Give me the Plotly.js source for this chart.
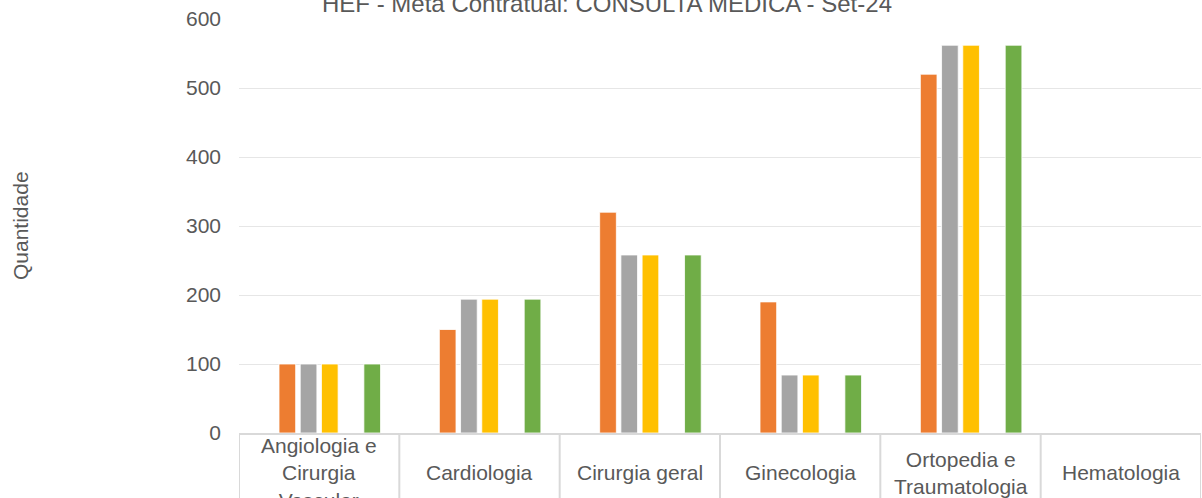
<!DOCTYPE html>
<html>
<head>
<meta charset="utf-8">
<script src="https://cdn.plot.ly/plotly-3.0.1.min.js"></script>
<style>html,body{margin:0;padding:0;background:#fff;}#chart{width:1202px;height:498px;}</style>
</head>
<body>
<div id="chart"></div>
<script>
const categories = ["Angiologia e<br>Cirurgia<br>Vascular", "Cardiologia", "Cirurgia geral", "Ginecologia", "Ortopedia e<br>Traumatologia", "Hematologia"];
const seriesNames = ["Série 1", "Série 2", "Série 3", "Série 4", "Série 5", "Série 6"];
const seriesColors = ["#4472C4", "#ED7D31", "#A5A5A5", "#FFC000", "#5B9BD5", "#70AD47"];
const serie1 = [0, 0, 0, 0, 0, 0];
const serie2 = [100, 150, 320, 190, 520, 0];
const serie3 = [100, 194, 258, 84, 562, 0];
const serie4 = [100, 194, 258, 84, 562, 0];
const serie5 = [0, 0, 0, 0, 0, 0];
const serie6 = [100, 194, 258, 84, 562, 0];
const yTicks = [0, 100, 200, 300, 400, 500, 600];
const chartTitle = "HEF - Meta Contratual: CONSULTA MÉDICA - Set-24";
const yTitle = "Quantidade";

const allSeries = [serie1, serie2, serie3, serie4, serie5, serie6];
const xIdx = categories.map((c, i) => i);
const textColor = "#595959";
const font = "Liberation Sans, Arial, sans-serif";

const traces = allSeries.map((vals, k) => ({
  type: "bar",
  name: seriesNames[k],
  x: xIdx,
  y: vals,
  marker: {color: seriesColors[k], line: {color: "#FFFFFF", width: 0.8}},
  hoverinfo: "y"
}));

const shapes = [];
for (let i = 0; i <= categories.length; i++) {
  shapes.push({type: "line", xref: "x", yref: "paper", x0: i - 0.5, x1: i - 0.5, y0: 0, y1: -0.25,
    line: {color: "#D9D9D9", width: 2}});
}

const annotations = categories.map((c, i) => ({
  xref: "x", yref: "paper", x: i, y: -0.0966, text: c, showarrow: false,
  xanchor: "center", yanchor: "middle", align: "center",
  font: {family: font, size: 21, color: textColor}
}));
annotations.push({
  xref: "paper", yref: "paper", x: -(239 - 20) / 962, y: 0.5, text: yTitle, showarrow: false,
  textangle: -90, xanchor: "center", yanchor: "middle",
  font: {family: font, size: 21, color: textColor}
});

const layout = {
  width: 1202, height: 498,
  margin: {l: 239, r: 1, t: 19, b: 65, pad: 0},
  paper_bgcolor: "#FFFFFF", plot_bgcolor: "#FFFFFF",
  showlegend: false,
  barmode: "group", bargap: 0.206, bargroupgap: 0.214,
  title: {text: chartTitle, font: {family: font, size: 24, color: textColor},
    xref: "container", x: 0.505, xanchor: "center", yref: "container", y: 1 - 3.6 / 498, yanchor: "middle"},
  xaxis: {type: "linear", range: [-0.5, categories.length - 0.5], showticklabels: false, showgrid: false,
    zeroline: false, showline: true, linecolor: "#D9D9D9", linewidth: 2, ticks: "", fixedrange: true},
  yaxis: {range: [0, 600], tickvals: yTicks, ticktext: yTicks.map(String), showgrid: true, gridcolor: "#E6E6E6", gridwidth: 1,
    zeroline: false, showline: false, ticks: "", ticklabelstandoff: 17,
    tickfont: {family: font, size: 21, color: textColor}, fixedrange: true},
  shapes: shapes,
  annotations: annotations,
  font: {family: font, color: textColor}
};

Plotly.newPlot("chart", traces, layout, {displayModeBar: false, staticPlot: true});
</script>
</body>
</html>
